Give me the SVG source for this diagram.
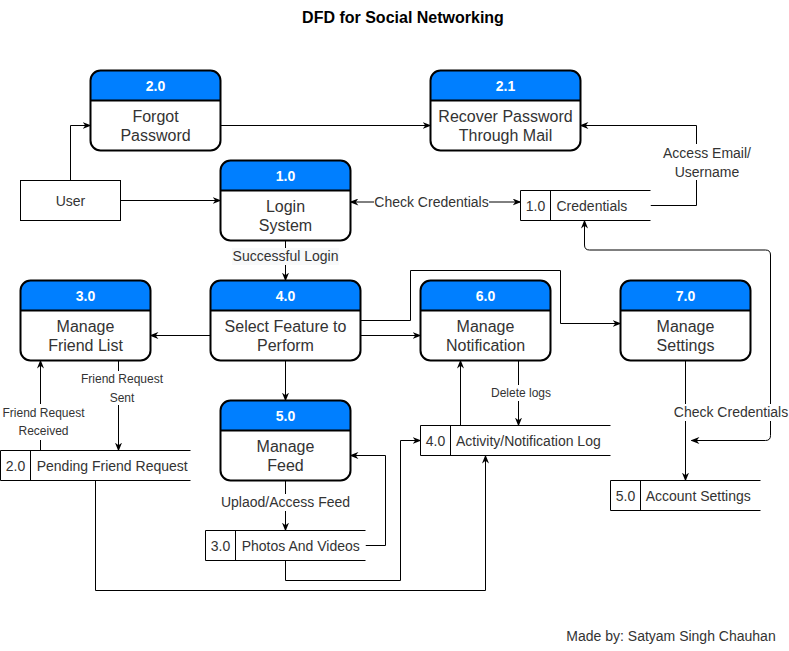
<svg xmlns="http://www.w3.org/2000/svg" width="789" height="651" viewBox="0 0 789 651">
<style>
text{font-family:"Liberation Sans",Arial,sans-serif;fill:#333;}
.title{font-size:16px;font-weight:bold;fill:#000;text-anchor:middle;}
.hd{font-size:14px;font-weight:bold;fill:#fff;text-anchor:middle;}
.bd{font-size:16px;text-anchor:middle;}
.st{font-size:14px;}
.stc{font-size:14px;text-anchor:middle;}
.lb{font-size:14px;text-anchor:middle;}
.ls{font-size:12px;text-anchor:middle;}
.bg{fill:#fff;stroke:none;}
.hdr{fill:#007FFF;stroke:none;}
.box{fill:none;stroke:#000;stroke-width:2;}
.div{stroke:#000;stroke-width:2;}
.store{fill:#fff;stroke:#000;stroke-width:1;}
.e{fill:none;stroke:#000;stroke-width:1;}
.ea{fill:none;stroke:#000;stroke-width:1;marker-end:url(#a);}
.eb{fill:none;stroke:#000;stroke-width:1;marker-start:url(#a);marker-end:url(#a);}
</style>
<defs>
<marker id="a" viewBox="0 0 10 8" refX="9" refY="4" markerWidth="9" markerHeight="7" markerUnits="userSpaceOnUse" orient="auto-start-reverse">
<path d="M0,0 L10,4 L0,8 L3,4 Z" fill="#000"/>
</marker>
</defs>
<rect width="789" height="651" fill="#fff"/>
<text class="title" x="403" y="22.5">DFD for Social Networking</text>

<g id="edges">
<path class="ea" d="M70.5,180.5 V125.5 H90.5"/>
<path class="ea" d="M120.5,200.5 H220.5"/>
<path class="ea" d="M220.5,125.5 H430.5"/>
<path class="ea" d="M650.5,205.5 H696.5 V125.5 H580.5"/>
<path class="eb" d="M350.5,202 H520.5"/>
<path class="ea" d="M285.5,240.5 V280.5"/>
<path class="ea" d="M210.5,335.5 H150.5"/>
<path class="ea" d="M285.5,360.5 V400.5"/>
<path class="ea" d="M360.5,335.5 H420.5"/>
<path class="ea" d="M360.5,320.5 H410.5 V270.5 H560.5 V323.5 H620.5"/>
<path class="ea" d="M518.5,360.5 V425.5"/>
<path class="ea" d="M460.5,425.5 V360.5"/>
<path class="ea" d="M95.5,480.5 V590.5 H485.5 V455.5"/>
<path class="ea" d="M285.5,560.5 V580.5 H400.5 V440.5 H420.5"/>
<path class="ea" d="M365.5,545.5 H385.5 V455.5 H350.5"/>
<path class="ea" d="M285.5,480.5 V530.5"/>
<path class="ea" d="M118.5,360.5 V450.5"/>
<path class="ea" d="M40.5,450.5 V360.5"/>
<path class="ea" d="M685.5,360.5 V480.5"/>
<path class="eb" d="M691.5,440.5 H765.5 Q770.5,440.5 770.5,435.5 V255 Q770.5,250 765.5,250 H589.5 Q584.5,250 584.5,245 V220.5"/>
</g>

<g id="edge-labels">
<rect class="bg" x="374" y="194" width="115" height="16"/>
<text class="lb" x="431.5" y="207">Check Credentials</text>
<rect class="bg" x="662" y="144" width="90" height="36"/>
<text class="lb" x="707" y="158">Access Email/</text>
<text class="lb" x="707" y="177">Username</text>
<rect x="232" y="248" width="107" height="17" fill="#f8f9fa"/>
<text class="lb" x="285.5" y="261">Successful Login</text>
<rect class="bg" x="80" y="371" width="84" height="34"/>
<text class="ls" x="122" y="383">Friend Request</text>
<text class="ls" x="122" y="401.5">Sent</text>
<rect class="bg" x="2" y="404" width="84" height="36"/>
<text class="ls" x="43.5" y="416.7">Friend Request</text>
<text class="ls" x="43.5" y="435.3">Received</text>
<rect class="bg" x="490" y="385" width="62" height="16"/>
<text class="ls" x="521" y="396.7">Delete logs</text>
<rect class="bg" x="674" y="404" width="114" height="17"/>
<text class="lb" x="731" y="417">Check Credentials</text>
<rect class="bg" x="221" y="494" width="130" height="17"/>
<text class="lb" x="285.5" y="507.3">Uplaod/Access Feed</text>
</g>

<g id="user">
<rect x="20.5" y="180.5" width="100" height="40" fill="#fff" stroke="#000"/>
<text class="lb" x="70.5" y="205.5">User</text>
</g>

<g id="p2_0">
<rect class="bg" x="90.5" y="70.5" width="130" height="80" rx="10"/>
<path class="hdr" d="M90.5,100.5 V80.5 A10,10 0 0 1 100.5,70.5 H210.5 A10,10 0 0 1 220.5,80.5 V100.5 Z"/>
<line class="div" x1="90.5" y1="100.5" x2="220.5" y2="100.5"/>
<rect class="box" x="90.5" y="70.5" width="130" height="80" rx="10"/>
<text class="hd" x="155.5" y="90.5">2.0</text>
<text class="bd" x="155.5" y="122.2">Forgot</text>
<text class="bd" x="155.5" y="141">Password</text>
</g>

<g id="p2_1">
<rect class="bg" x="430.5" y="70.5" width="150" height="80" rx="10"/>
<path class="hdr" d="M430.5,100.5 V80.5 A10,10 0 0 1 440.5,70.5 H570.5 A10,10 0 0 1 580.5,80.5 V100.5 Z"/>
<line class="div" x1="430.5" y1="100.5" x2="580.5" y2="100.5"/>
<rect class="box" x="430.5" y="70.5" width="150" height="80" rx="10"/>
<text class="hd" x="505.5" y="90.5">2.1</text>
<text class="bd" x="505.5" y="122.2">Recover Password</text>
<text class="bd" x="505.5" y="141">Through Mail</text>
</g>

<g id="p1_0">
<rect class="bg" x="220.5" y="160.5" width="130" height="80" rx="10"/>
<path class="hdr" d="M220.5,190.5 V170.5 A10,10 0 0 1 230.5,160.5 H340.5 A10,10 0 0 1 350.5,170.5 V190.5 Z"/>
<line class="div" x1="220.5" y1="190.5" x2="350.5" y2="190.5"/>
<rect class="box" x="220.5" y="160.5" width="130" height="80" rx="10"/>
<text class="hd" x="285.5" y="180.5">1.0</text>
<text class="bd" x="285.5" y="212.2">Login</text>
<text class="bd" x="285.5" y="231">System</text>
</g>

<g id="s1_0">
<path class="store" d="M650.5,190.5 H520.5 V220.5 H650.5"/>
<line stroke="#000" x1="550.5" y1="190.5" x2="550.5" y2="220.5"/>
<text class="stc" x="535.5" y="210.5">1.0</text>
<text class="st" x="556.5" y="210.5">Credentials</text>
</g>

<g id="p3_0">
<rect class="bg" x="20.5" y="280.5" width="130" height="80" rx="10"/>
<path class="hdr" d="M20.5,310.5 V290.5 A10,10 0 0 1 30.5,280.5 H140.5 A10,10 0 0 1 150.5,290.5 V310.5 Z"/>
<line class="div" x1="20.5" y1="310.5" x2="150.5" y2="310.5"/>
<rect class="box" x="20.5" y="280.5" width="130" height="80" rx="10"/>
<text class="hd" x="85.5" y="300.5">3.0</text>
<text class="bd" x="85.5" y="332.2">Manage</text>
<text class="bd" x="85.5" y="351">Friend List</text>
</g>

<g id="p4_0">
<rect class="bg" x="210.5" y="280.5" width="150" height="80" rx="10"/>
<path class="hdr" d="M210.5,310.5 V290.5 A10,10 0 0 1 220.5,280.5 H350.5 A10,10 0 0 1 360.5,290.5 V310.5 Z"/>
<line class="div" x1="210.5" y1="310.5" x2="360.5" y2="310.5"/>
<rect class="box" x="210.5" y="280.5" width="150" height="80" rx="10"/>
<text class="hd" x="285.5" y="300.5">4.0</text>
<text class="bd" x="285.5" y="332.2">Select Feature to</text>
<text class="bd" x="285.5" y="351">Perform</text>
</g>

<g id="p6_0">
<rect class="bg" x="420.5" y="280.5" width="130" height="80" rx="10"/>
<path class="hdr" d="M420.5,310.5 V290.5 A10,10 0 0 1 430.5,280.5 H540.5 A10,10 0 0 1 550.5,290.5 V310.5 Z"/>
<line class="div" x1="420.5" y1="310.5" x2="550.5" y2="310.5"/>
<rect class="box" x="420.5" y="280.5" width="130" height="80" rx="10"/>
<text class="hd" x="485.5" y="300.5">6.0</text>
<text class="bd" x="485.5" y="332.2">Manage</text>
<text class="bd" x="485.5" y="351">Notification</text>
</g>

<g id="p7_0">
<rect class="bg" x="620.5" y="280.5" width="130" height="80" rx="10"/>
<path class="hdr" d="M620.5,310.5 V290.5 A10,10 0 0 1 630.5,280.5 H740.5 A10,10 0 0 1 750.5,290.5 V310.5 Z"/>
<line class="div" x1="620.5" y1="310.5" x2="750.5" y2="310.5"/>
<rect class="box" x="620.5" y="280.5" width="130" height="80" rx="10"/>
<text class="hd" x="685.5" y="300.5">7.0</text>
<text class="bd" x="685.5" y="332.2">Manage</text>
<text class="bd" x="685.5" y="351">Settings</text>
</g>

<g id="p5_0">
<rect class="bg" x="220.5" y="400.5" width="130" height="80" rx="10"/>
<path class="hdr" d="M220.5,430.5 V410.5 A10,10 0 0 1 230.5,400.5 H340.5 A10,10 0 0 1 350.5,410.5 V430.5 Z"/>
<line class="div" x1="220.5" y1="430.5" x2="350.5" y2="430.5"/>
<rect class="box" x="220.5" y="400.5" width="130" height="80" rx="10"/>
<text class="hd" x="285.5" y="420.5">5.0</text>
<text class="bd" x="285.5" y="452.2">Manage</text>
<text class="bd" x="285.5" y="471">Feed</text>
</g>

<g id="s2_0">
<path class="store" d="M190.5,450.5 H0.5 V480.5 H190.5"/>
<line stroke="#000" x1="30.5" y1="450.5" x2="30.5" y2="480.5"/>
<text class="stc" x="15.5" y="470.5">2.0</text>
<text class="st" x="36.7" y="470.5">Pending Friend Request</text>
</g>

<g id="s4_0">
<path class="store" d="M610.5,425.5 H420.5 V455.5 H610.5"/>
<line stroke="#000" x1="450.5" y1="425.5" x2="450.5" y2="455.5"/>
<text class="stc" x="435.5" y="445.5">4.0</text>
<text class="st" x="456" y="445.5">Activity/Notification Log</text>
</g>

<g id="s5_0">
<path class="store" d="M760.5,480.5 H610.5 V510.5 H760.5"/>
<line stroke="#000" x1="640.5" y1="480.5" x2="640.5" y2="510.5"/>
<text class="stc" x="625.5" y="500.5">5.0</text>
<text class="st" x="645.7" y="500.5">Account Settings</text>
</g>

<g id="s3_0">
<path class="store" d="M365.5,530.5 H205.5 V560.5 H365.5"/>
<line stroke="#000" x1="235.5" y1="530.5" x2="235.5" y2="560.5"/>
<text class="stc" x="220.5" y="550.5">3.0</text>
<text class="st" x="241.7" y="550.5">Photos And Videos</text>
</g>

<text class="lb" x="671" y="641">Made by: Satyam Singh Chauhan</text>
</svg>
